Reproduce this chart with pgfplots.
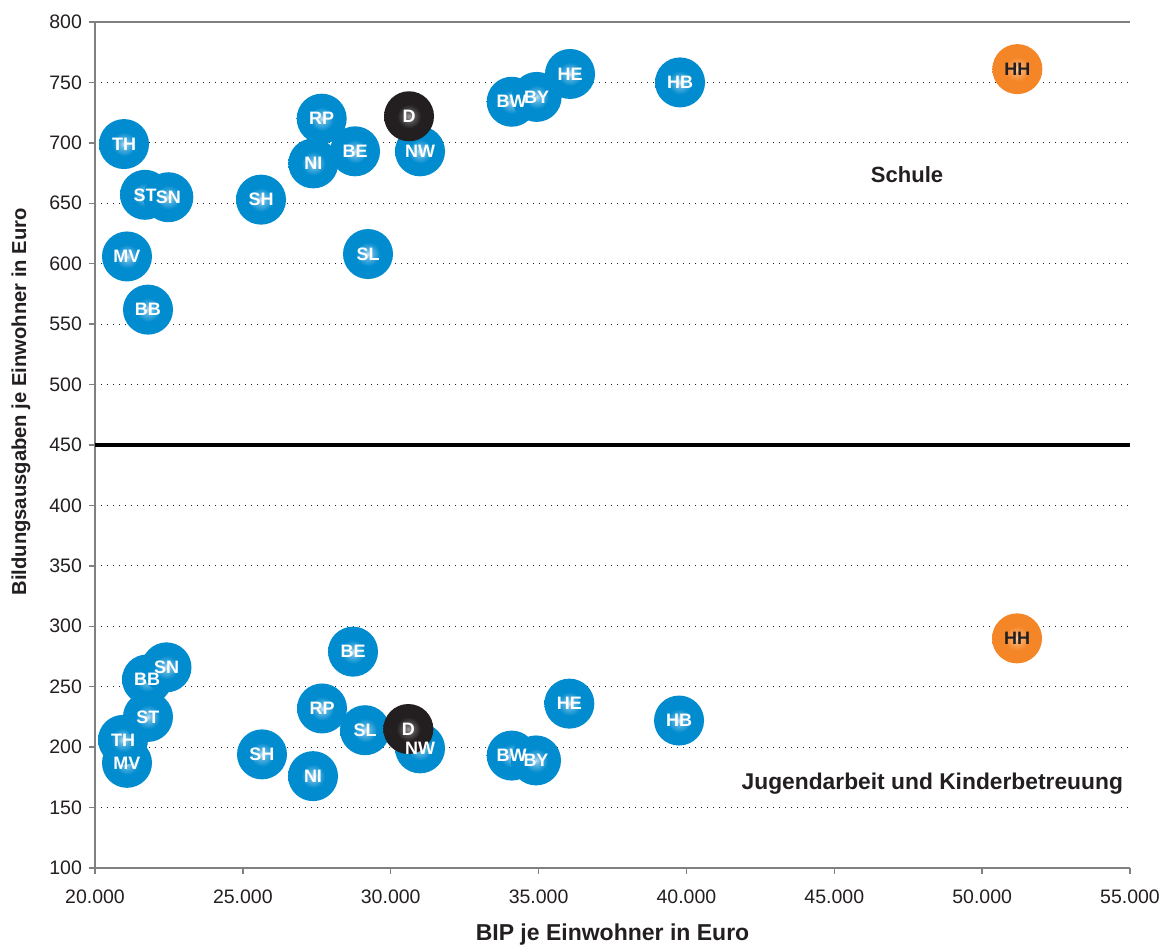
\documentclass[border=0pt]{standalone}
\usepackage{fontspec}
\setmainfont{Liberation Sans}
\usepackage{pgfplots}
\pgfplotsset{compat=1.18}
\usepackage{pgfplotstable}

\definecolor{bub}{RGB}{0,140,207}
\definecolor{bubhi}{RGB}{190,222,243}
\definecolor{dk}{RGB}{35,31,32}
\definecolor{dkhi}{RGB}{160,160,160}
\definecolor{hh}{RGB}{245,134,40}
\definecolor{hhhi}{RGB}{252,210,170}
\definecolor{axgray}{RGB}{128,128,128}

\pgfdeclareradialshading{shblue}{\pgfpoint{0bp}{0bp}}{color(0bp)=(bubhi); color(4bp)=(bubhi!50!bub); color(12bp)=(bub); color(50bp)=(bub)}
\pgfdeclareradialshading{shdark}{\pgfpoint{0bp}{0bp}}{color(0bp)=(dkhi); color(4bp)=(dkhi!50!dk); color(12bp)=(dk); color(50bp)=(dk)}
\pgfdeclareradialshading{shorange}{\pgfpoint{0bp}{0bp}}{color(0bp)=(hhhi); color(4bp)=(hhhi!50!hh); color(12bp)=(hh); color(50bp)=(hh)}

% Schule (oben)
\pgfplotstableread{
x y lab
20981 699 TH
21082 606 MV
21691 657 ST
21792 562 BB
22480 655 SN
25614 653 SH
27666 720 RP
27382 683 NI
28793 693 BE
29232 608 SL
30991 693 NW
34091 734 BW
34936 738 BY
36064 757 HE
39784 750 HB
}\schule
\pgfplotstableread{
x y lab
30619 722 D
30596 215 D
}\bund
\pgfplotstableread{
x y lab
51191 761 HH
51180 290 HH
}\hamburg
% Jugendarbeit und Kinderbetreuung (unten)
\pgfplotstableread{
x y lab
21082 187 MV
20947 206 TH
21759 256 BB
21792 225 ST
22418 266 SN
25647 194 SH
27372 176 NI
27677 232 RP
28725 279 BE
29131 214 SL
30991 199 NW
34091 193 BW
34913 189 BY
36041 236 HE
39750 222 HB
}\jugend

\pgfplotsset{
  bubble/.style={draw=none, mark=none, nodes near coords={\relax},
    every node near coord/.append style={circle, minimum size=25pt, inner sep=0pt,
      anchor=center, shade, shading=#1}},
  bublabel/.style={draw=none, mark=none, point meta=explicit symbolic,
    nodes near coords={\pgfplotspointmeta},
    every node near coord/.append style={anchor=center, inner sep=0pt, text=#1,
      font=\fontsize{9}{10}\selectfont\bfseries}},
}

\begin{document}
\begin{tikzpicture}
\path[use as bounding box] (-47.5pt,-38.5pt) rectangle (538pt,434pt);
\begin{axis}[
  scale only axis, width=517.5pt, height=423pt,
  xmin=20000, xmax=55000, ymin=100, ymax=800,
  xtick={20000,25000,...,55000}, ytick={100,150,...,800},
  scaled x ticks=false,
  xticklabel style={/pgf/number format/1000 sep={.}, yshift=-4.5pt},
  /pgf/number format/assume math mode=true,
  axis lines*=left,
  axis line style={axgray, line width=0.75pt},
  tick align=outside, major tick length=3pt,
  tick style={axgray, line width=0.75pt},
  ymajorgrids,
  grid style={dk, line width=0.6pt, dash pattern=on 0.6pt off 2.4pt},
  ticklabel style={font=\fontsize{9.75}{11}\selectfont, text=dk},
  xlabel={BIP je Einwohner in Euro},
  ylabel={Bildungsausgaben je Einwohner in Euro},
  every axis x label/.style={at={(axis description cs:0.5,-0.079)}, anchor=center,
    text=dk, font=\fontsize{11.5}{13}\selectfont\bfseries},
  every axis y label/.style={at={(axis description cs:-0.0715,0.551)}, anchor=center, rotate=90,
    text=dk, font=\fontsize{10.1}{12}\selectfont\bfseries},
  clip=false,
]
\draw[axgray, line width=0.75pt] (rel axis cs:0,1) -- (rel axis cs:1,1);
\addplot[black, line width=2pt, mark=none] coordinates {(20000,450) (55000,450)};

\addplot[bubble=shblue] table[x=x, y=y]{\schule};
\addplot[bubble=shblue] table[x=x, y=y]{\jugend};
\addplot[bubble=shdark] table[x=x, y=y]{\bund};
\addplot[bubble=shorange] table[x=x, y=y]{\hamburg};

\addplot[bublabel=white] table[x=x, y=y, meta=lab]{\schule};
\addplot[bublabel=white] table[x=x, y=y, meta=lab]{\jugend};
\addplot[bublabel=white] table[x=x, y=y, meta=lab]{\bund};
\addplot[bublabel=dk] table[x=x, y=y, meta=lab]{\hamburg};

\node[font=\fontsize{11}{13}\selectfont\bfseries, text=dk] at (axis cs:47460,674) {Schule};
\node[font=\fontsize{11.4}{13}\selectfont\bfseries, text=dk, anchor=east] at (axis cs:55000,170) {Jugendarbeit und Kinderbetreuung};
\end{axis}
\end{tikzpicture}
\end{document}
